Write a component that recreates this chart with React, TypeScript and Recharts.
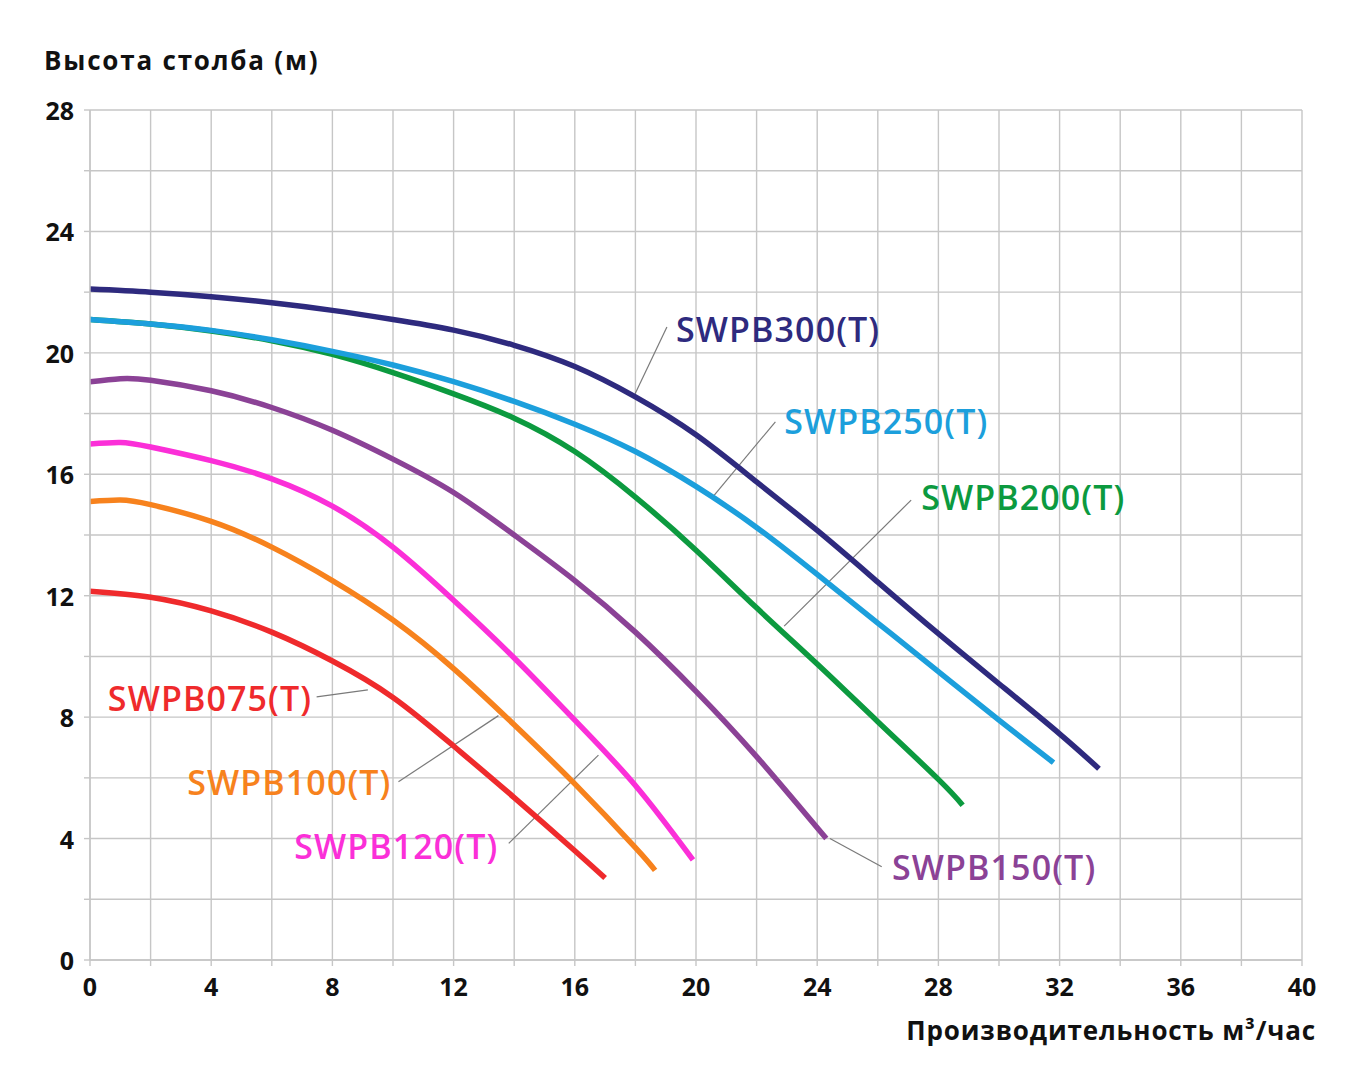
import {
  LineChart, Line, XAxis, YAxis, CartesianGrid,
  ReferenceLine, ReferenceDot
} from "recharts";

// ticks (labels only on every 2nd one)
const xTicks = [0, 2, 4, 6, 8, 10, 12, 14, 16, 18, 20, 22, 24, 26, 28, 30, 32, 34, 36, 38, 40];
const yTicks = [0, 2, 4, 6, 8, 10, 12, 14, 16, 18, 20, 22, 24, 26, 28];

// flow q (m3/h) -> head h (m)
const swpb075 = [
  { q: 0, h: 12.15 }, { q: 2, h: 11.95 }, { q: 4, h: 11.5 }, { q: 6, h: 10.8 },
  { q: 8, h: 9.85 }, { q: 10, h: 8.65 }, { q: 12, h: 7.05 }, { q: 14, h: 5.35 },
  { q: 16, h: 3.6 }, { q: 17, h: 2.7 },
];
const swpb100 = [
  { q: 0, h: 15.1 }, { q: 1, h: 15.15 }, { q: 2, h: 15.0 }, { q: 4, h: 14.45 },
  { q: 6, h: 13.6 }, { q: 8, h: 12.5 }, { q: 10, h: 11.2 }, { q: 12, h: 9.6 },
  { q: 14, h: 7.75 }, { q: 16, h: 5.8 }, { q: 18, h: 3.7 }, { q: 18.65, h: 2.95 },
];
const swpb120 = [
  { q: 0, h: 17.0 }, { q: 1, h: 17.05 }, { q: 2, h: 16.9 }, { q: 4, h: 16.45 },
  { q: 6, h: 15.85 }, { q: 8, h: 14.95 }, { q: 10, h: 13.6 }, { q: 12, h: 11.85 },
  { q: 14, h: 9.95 }, { q: 16, h: 7.9 }, { q: 18, h: 5.75 }, { q: 19.9, h: 3.3 },
];
const swpb150 = [
  { q: 0, h: 19.05 }, { q: 1, h: 19.15 }, { q: 2, h: 19.1 }, { q: 4, h: 18.75 },
  { q: 6, h: 18.2 }, { q: 8, h: 17.45 }, { q: 10, h: 16.5 }, { q: 12, h: 15.4 },
  { q: 14, h: 14.0 }, { q: 16, h: 12.5 }, { q: 18, h: 10.8 }, { q: 20, h: 8.85 },
  { q: 22, h: 6.7 }, { q: 24.3, h: 4.0 },
];
const swpb200 = [
  { q: 0, h: 21.1 }, { q: 2, h: 20.95 }, { q: 4, h: 20.72 }, { q: 6, h: 20.4 },
  { q: 8, h: 19.95 }, { q: 10, h: 19.35 }, { q: 12, h: 18.65 }, { q: 14, h: 17.85 },
  { q: 16, h: 16.75 }, { q: 18, h: 15.25 }, { q: 20, h: 13.5 }, { q: 22, h: 11.6 },
  { q: 24, h: 9.75 }, { q: 26, h: 7.85 }, { q: 28, h: 5.95 }, { q: 28.8, h: 5.1 },
];
const swpb250 = [
  { q: 0, h: 21.1 }, { q: 2, h: 20.95 }, { q: 4, h: 20.74 }, { q: 6, h: 20.43 },
  { q: 8, h: 20.05 }, { q: 10, h: 19.6 }, { q: 12, h: 19.05 }, { q: 14, h: 18.4 },
  { q: 16, h: 17.65 }, { q: 18, h: 16.75 }, { q: 20, h: 15.6 }, { q: 22, h: 14.25 },
  { q: 24, h: 12.7 }, { q: 26, h: 11.1 }, { q: 28, h: 9.5 }, { q: 30, h: 7.9 },
  { q: 31.8, h: 6.5 },
];
const swpb300 = [
  { q: 0, h: 22.1 }, { q: 2, h: 22.0 }, { q: 4, h: 21.85 }, { q: 6, h: 21.65 },
  { q: 8, h: 21.4 }, { q: 10, h: 21.1 }, { q: 12, h: 20.75 }, { q: 14, h: 20.25 },
  { q: 16, h: 19.55 }, { q: 18, h: 18.55 }, { q: 20, h: 17.3 }, { q: 22, h: 15.75 },
  { q: 24, h: 14.15 }, { q: 26, h: 12.45 }, { q: 28, h: 10.75 }, { q: 30, h: 9.1 },
  { q: 32, h: 7.45 }, { q: 33.3, h: 6.3 },
];

const series = [
  { name: "SWPB075(T)", color: "#ef2a2c", data: swpb075 },
  { name: "SWPB100(T)", color: "#f7821d", data: swpb100 },
  { name: "SWPB120(T)", color: "#fb2fd8", data: swpb120 },
  { name: "SWPB150(T)", color: "#8b4296", data: swpb150 },
  { name: "SWPB200(T)", color: "#0c9a3f", data: swpb200 },
  { name: "SWPB250(T)", color: "#1c9fdc", data: swpb250 },
  { name: "SWPB300(T)", color: "#2e2a7e", data: swpb300 },
];

// callouts: text anchor + leader line, in data units
const callouts = [
  { name: "SWPB075(T)", tq: 7.33, th: 8.62, anchor: "end", from: [7.48, 8.67], to: [9.17, 8.9] },
  { name: "SWPB100(T)", tq: 9.95, th: 5.85, anchor: "end", from: [10.18, 5.87], to: [13.48, 8.05] },
  { name: "SWPB120(T)", tq: 13.48, th: 3.75, anchor: "end", from: [13.82, 3.84], to: [16.78, 6.75] },
  { name: "SWPB150(T)", tq: 26.47, th: 3.05, anchor: "start", from: [26.13, 3.07], to: [24.42, 4.0] },
  { name: "SWPB200(T)", tq: 27.43, th: 15.26, anchor: "start", from: [27.1, 15.15], to: [22.91, 11.0] },
  { name: "SWPB250(T)", tq: 22.91, th: 17.76, anchor: "start", from: [22.62, 17.73], to: [20.59, 15.3] },
  { name: "SWPB300(T)", tq: 19.34, th: 20.8, anchor: "start", from: [19.04, 20.85], to: [17.99, 18.65] },
];

const FONT = "'Open Sans', 'DejaVu Sans', sans-serif";
const GRID = "#c6c6c6";

const colorOf = (name: string) => series.find((s) => s.name === name)?.color ?? "#000";

const XTick = (props: any) => {
  const v = props.payload.value;
  if (v % 4 !== 0) return null;
  return (
    <text x={props.x} y={props.y} dy={12} textAnchor="middle" dominantBaseline="central"
      fontFamily={FONT} fontWeight={700} fontSize={25} fill="#111">{v}</text>
  );
};

const YTick = (props: any) => {
  const v = props.payload.value;
  if (v % 4 !== 0) return null;
  return (
    <text x={props.x} y={props.y} textAnchor="end" dominantBaseline="central"
      fontFamily={FONT} fontWeight={700} fontSize={25} fill="#111">{v}</text>
  );
};

export default function App() {
  return (
    <div style={{ position: "relative", width: 1350, height: 1064, background: "#fff" }}>
      <div style={{
        position: "absolute", left: 36, top: 36, fontFamily: FONT, fontWeight: 700,
        fontSize: 26, lineHeight: "32px", letterSpacing: 1.8, color: "#111", whiteSpace: "nowrap"
      }}>
        Высота столба (м)
      </div>
      <div style={{
        position: "absolute", right: 42, top: 1006, fontFamily: FONT, fontWeight: 700,
        fontSize: 26, lineHeight: "32px", letterSpacing: 0.85, color: "#111", whiteSpace: "nowrap"
      }}>
        Производительность м³/час
      </div>
      <LineChart width={1350} height={1064}
        margin={{ top: 102, right: 56, bottom: 52, left: 10 }}>
        <CartesianGrid stroke={GRID} strokeWidth={1.4} />
        <XAxis type="number" dataKey="q" domain={[0, 40]} ticks={xTicks} interval={0}
          height={60} stroke={GRID} strokeWidth={1.4} tickSize={6} tickMargin={8}
          tick={<XTick />} allowDataOverflow />
        <YAxis type="number" dataKey="h" domain={[0, 28]} ticks={yTicks} interval={0}
          width={72} stroke={GRID} strokeWidth={1.4} tickSize={6} tickMargin={10}
          tick={<YTick />} allowDataOverflow />
        {callouts.map((c) => (
          <ReferenceLine key={"l" + c.name}
            segment={[{ x: c.from[0], y: c.from[1] }, { x: c.to[0], y: c.to[1] }]}
            stroke="#7a7a7a" strokeWidth={1.2} ifOverflow="visible" />
        ))}
        {series.map((s) => (
          <Line key={s.name} data={s.data} dataKey="h" type="natural" stroke={s.color}
            strokeWidth={5.5} dot={false} activeDot={false} isAnimationActive={false} />
        ))}
        {callouts.map((c) => (
          <ReferenceDot key={"t" + c.name} x={c.tq} y={c.th} r={1} ifOverflow="visible"
            shape={(p: any) => (
              <text x={p.cx} y={p.cy} textAnchor={c.anchor as any} dominantBaseline="central"
                fontFamily={FONT} fontWeight={600} fontSize={34} letterSpacing={1.1}
                fill={colorOf(c.name)}>
                {c.name}
              </text>
            )} />
        ))}
      </LineChart>
    </div>
  );
}
